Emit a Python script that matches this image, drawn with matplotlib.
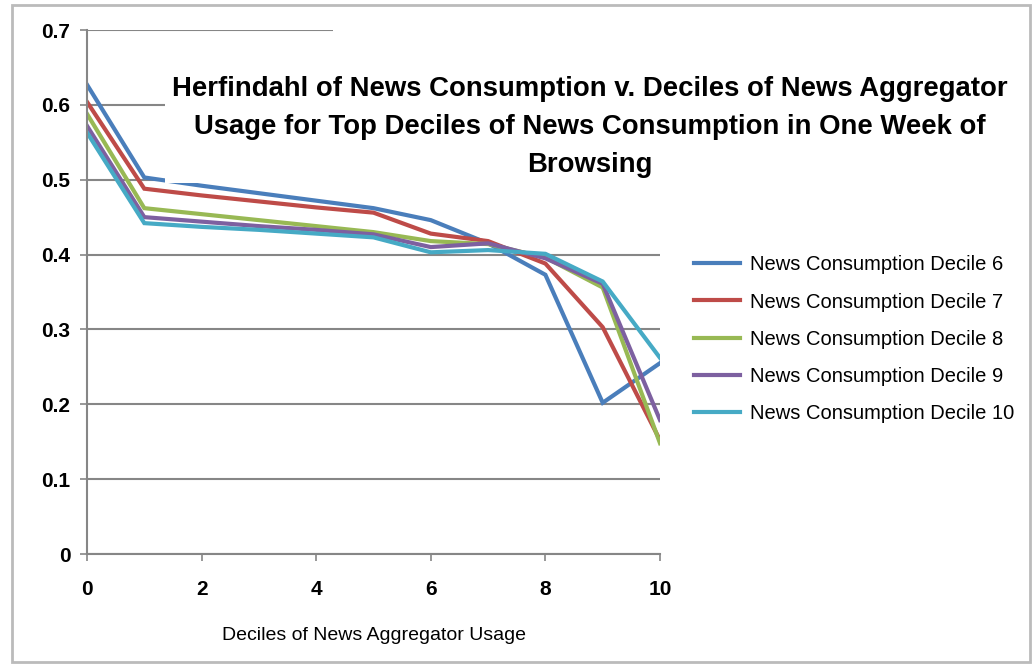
import matplotlib
matplotlib.use('Agg')
import matplotlib.pyplot as plt
from matplotlib.patches import Rectangle

deciles = [0, 1, 2, 3, 4, 5, 6, 7, 8, 9, 10]
decile_6 = [0.627, 0.503, 0.492, 0.482, 0.472, 0.462, 0.446, 0.415, 0.373, 0.202, 0.255]
decile_7 = [0.604, 0.488, 0.479, 0.471, 0.463, 0.456, 0.428, 0.418, 0.388, 0.303, 0.152]
decile_8 = [0.588, 0.462, 0.454, 0.446, 0.438, 0.430, 0.418, 0.414, 0.396, 0.356, 0.148]
decile_9 = [0.572, 0.450, 0.444, 0.438, 0.433, 0.427, 0.410, 0.415, 0.395, 0.361, 0.179]
decile_10 = [0.563, 0.442, 0.437, 0.433, 0.428, 0.423, 0.403, 0.406, 0.401, 0.364, 0.262]

series = [decile_6, decile_7, decile_8, decile_9, decile_10]
labels = ['News Consumption Decile 6', 'News Consumption Decile 7',
          'News Consumption Decile 8', 'News Consumption Decile 9',
          'News Consumption Decile 10']
colors = ['#4A7EBB', '#BE4B48', '#98B954', '#7D60A0', '#46AAC5']

plt.rcParams['font.family'] = ['Liberation Sans', 'DejaVu Sans']

W, H = 1034, 667
fig = plt.figure(figsize=(W / 100, H / 100), dpi=100)
ax = fig.add_axes([87 / W, 1 - 554 / H, 573 / W, 524 / H])

for ys, lab, c in zip(series, labels, colors):
    ax.plot(deciles, ys, color=c, lw=3, label=lab, solid_joinstyle='miter')

grey = '#868686'
ax.set_xlim(0, 10)
ax.set_ylim(0, 0.7)
ax.set_xticks([0, 2, 4, 6, 8, 10])
ax.set_yticks([0, 0.1, 0.2, 0.3, 0.4, 0.5, 0.6, 0.7])
ax.set_yticklabels(['0', '0.1', '0.2', '0.3', '0.4', '0.5', '0.6', '0.7'])
ax.yaxis.grid(True, color=grey, lw=1.5)
ax.set_axisbelow(True)
for s in ['top', 'right']:
    ax.spines[s].set_visible(False)
for s in ['left', 'bottom']:
    ax.spines[s].set_color(grey)
    ax.spines[s].set_linewidth(1.5)
ax.tick_params(colors=grey, labelcolor='black', length=5, width=1.2,
               labelsize=15)
ax.tick_params(axis='x', pad=14)
ax.tick_params(axis='y', pad=7)
for t in ax.get_xticklabels() + ax.get_yticklabels():
    t.set_fontweight('bold')
ax.set_xlabel('Deciles of News Aggregator Usage', fontsize=14, labelpad=20)

ax.legend(loc='center left', bbox_to_anchor=(1.028, 0.41), frameon=False,
          fontsize=14.5, handlelength=2.3, labelspacing=0.9, handletextpad=0.45)

# white boxes behind the title, hiding gridlines
fig.patches.append(Rectangle((165 / W, 1 - 183 / H), (1012 - 165) / W, (183 - 60) / H,
                             transform=fig.transFigure, facecolor='white',
                             edgecolor='none', zorder=2))
fig.patches.append(Rectangle((333 / W, 1 - 60 / H), (665 - 333) / W, (60 - 20) / H,
                             transform=fig.transFigure, facecolor='white',
                             edgecolor='none', zorder=2))
fig.text(590 / W, 1 - 127 / H,
         'Herfindahl of News Consumption v. Deciles of News Aggregator\n'
         'Usage for Top Deciles of News Consumption in One Week of\nBrowsing',
         ha='center', va='center', fontsize=19.8, fontweight='bold',
         linespacing=1.62, zorder=3)

# outer frame
fig.patches.append(Rectangle((12 / W, 1 - 662 / H), (1030 - 12) / W, (662 - 5) / H,
                             transform=fig.transFigure, facecolor='none',
                             edgecolor='#BBBBBB', lw=2, zorder=4))

fig.savefig('out.png', dpi=100)
